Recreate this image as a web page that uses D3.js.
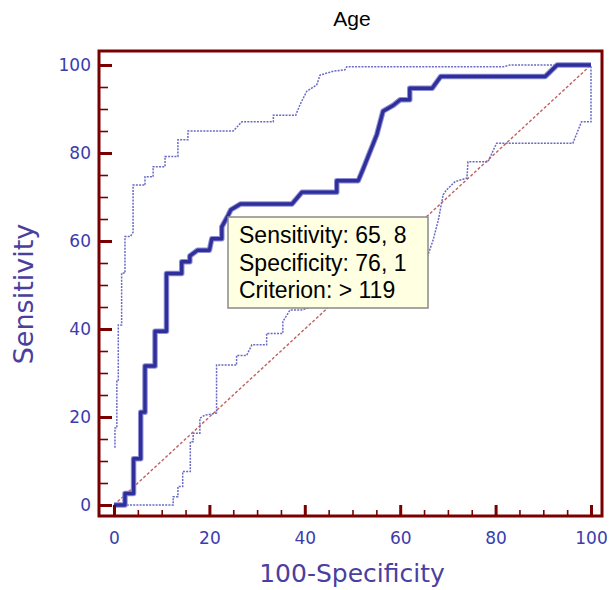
<!DOCTYPE html>
<html>
<head>
<meta charset="utf-8">
<script src="https://cdn.jsdelivr.net/npm/d3@7"></script>
<style>
  body { margin: 0; background: #fff; }
  svg { display: block; }
</style>
</head>
<body>
<script>
// tick values
var majorTicks = [0, 20, 40, 60, 80, 100];
var minorTicks = d3.range(0, 101, 5);

// ROC curve, [100-Specificity, Sensitivity]
var rocPoints = [
  [0, 0], [2.3, 0], [2.3, 2.6], [4.1, 2.6], [4.1, 10.5], [5.6, 10.5], [5.6, 21.1],
  [6.5, 21.1], [6.5, 31.6], [8.6, 31.6], [8.6, 39.5], [11, 39.5], [11, 52.6],
  [14.2, 52.6], [14.2, 55.3], [15.9, 55.3], [15.9, 56.6], [17.5, 57.9], [20, 57.9],
  [20.5, 60.5], [22.6, 60.5], [22.6, 63.2], [23.9, 65.8], [24.5, 67.1], [26.5, 68.4],
  [37.3, 68.4], [39.4, 71.1], [46.7, 71.1], [46.7, 73.7], [51.2, 73.7], [52.2, 76.3],
  [55.1, 84.2], [56.4, 89.5], [58.5, 90.8], [60, 92.1], [62, 92.1], [62, 94.7],
  [66.7, 94.7], [68.5, 97.4], [90.4, 97.4], [92.9, 100], [100, 100]
];

// upper 95% confidence bound
var upperPoints = [
  [0.2, 13], [0.2, 17.5], [0.6, 17.5], [0.6, 28.4], [0.9, 28.4], [0.9, 40.9],
  [1.6, 40.9], [1.6, 52.7], [2.3, 52.7], [2.3, 61], [3.4, 61], [4, 62], [4, 72.7],
  [6.5, 72.7], [6.5, 74.6], [8.2, 74.6], [8.2, 76.9], [10.7, 76.9], [10.7, 79.2],
  [13.4, 79.2], [13.4, 83], [15.5, 83], [15.5, 85], [25, 85], [26.8, 87.1],
  [33.4, 87.1], [33.4, 88.6], [38.1, 88.6], [39, 91], [40.4, 94], [42.5, 95.5],
  [43.2, 97.7], [46, 98.6], [48.4, 98.9], [48.8, 99.6], [81.6, 99.6], [83, 100],
  [100, 100]
];

// lower 95% confidence bound
var lowerPoints = [
  [0, 0], [12.4, 0], [12.4, 1.9], [13.4, 1.9], [13.4, 4.2], [14.4, 4.2], [14.4, 7.6],
  [16, 7.6], [16, 14.4], [16.6, 14.4], [16.6, 16.3], [18, 16.3], [18, 19.7],
  [19, 20.4], [21.5, 20.9], [21.5, 31.8], [25.7, 31.8], [25.7, 34], [27.8, 34],
  [28.9, 36.4], [32, 36.4], [32, 39], [35.4, 39], [35.4, 41.7], [36.9, 44.3],
  [39.3, 44.3], [48, 47.4], [57, 52.6], [63, 55.3], [65.8, 56.8], [66.9, 60.2],
  [68, 64.8], [69, 70.5], [69.7, 71.6], [71.5, 73.5], [74, 74.3], [74.2, 78],
  [78.4, 78], [80.2, 82.2], [96.2, 82.2], [98, 87.1], [100, 87.1], [100, 100]
];

var diagonal = [[0, 0], [100, 100]];

var legendLines = ["Sensitivity: 65, 8", "Specificity: 76, 1", "Criterion: > 119"];

var W = 609, H = 590;
var frame = { left: 99, top: 51, right: 602, bottom: 516 };

var svg = d3.select("body").append("svg")
    .attr("width", W)
    .attr("height", H);

var x = d3.scaleLinear().domain([0, 100]).range([114, 591]);
var y = d3.scaleLinear().domain([0, 100]).range([505, 65]);

var line = d3.line()
    .x(d => x(d[0]))
    .y(d => y(d[1]));

// title
svg.append("text")
    .attr("x", 352)
    .attr("y", 26)
    .attr("text-anchor", "middle")
    .style("font-family", "Liberation Sans, Arial, sans-serif")
    .style("font-size", "21px")
    .style("fill", "#000")
    .text("Age");

// diagonal reference line
svg.append("path")
    .datum(diagonal)
    .attr("d", line)
    .style("fill", "none")
    .style("stroke", "#c06060")
    .style("stroke-width", 1.4)
    .style("stroke-dasharray", "3,2");

// confidence bounds
[upperPoints, lowerPoints].forEach(function(pts) {
  svg.append("path")
      .datum(pts)
      .attr("d", line)
      .style("fill", "none")
      .style("stroke", "#6a6ac6")
      .style("stroke-width", 1.5)
      .style("stroke-dasharray", "2,1.2");
});

// ROC curve (soft halo + core)
svg.append("path")
    .datum(rocPoints)
    .attr("d", line)
    .style("fill", "none")
    .style("stroke", "#8f8fd4")
    .style("stroke-width", 5.5)
    .style("stroke-linejoin", "round");

svg.append("path")
    .datum(rocPoints)
    .attr("d", line)
    .style("fill", "none")
    .style("stroke", "#2f2f9c")
    .style("stroke-width", 3.4)
    .style("stroke-linejoin", "round");

// legend box
var legend = svg.append("g");
legend.append("rect")
    .attr("x", 228)
    .attr("y", 217)
    .attr("width", 200)
    .attr("height", 91)
    .style("fill", "#ffffe1")
    .style("stroke", "#8a8a8a")
    .style("stroke-width", 1.5);

legend.selectAll("text")
    .data(legendLines)
    .enter().append("text")
    .attr("x", 239)
    .attr("y", (d, i) => 243 + i * 27.5)
    .style("font-family", "Liberation Sans, Arial, sans-serif")
    .style("font-size", "23px")
    .style("fill", "#000")
    .text(d => d);

// axes: minor ticks, then major ticks with labels
var tickColor = "#7a0000";
var labelColor = "#3c3cae";

function styleAxis(g, width) {
  g.select(".domain").remove();
  g.selectAll(".tick line")
      .style("stroke", tickColor)
      .style("stroke-width", width);
  g.selectAll(".tick text")
      .style("fill", labelColor)
      .style("font-family", "DejaVu Sans, sans-serif")
      .style("font-size", "17px");
}

svg.append("g")
    .attr("transform", "translate(" + frame.left + ",0)")
    .call(d3.axisLeft(y).tickValues(minorTicks).tickSize(-9).tickFormat(""))
    .call(g => styleAxis(g, 1.6));

svg.append("g")
    .attr("transform", "translate(" + frame.left + ",0)")
    .call(d3.axisLeft(y).tickValues(majorTicks).tickSize(-13).tickPadding(8))
    .call(g => styleAxis(g, 3));

svg.append("g")
    .attr("transform", "translate(0," + frame.bottom + ")")
    .call(d3.axisBottom(x).tickValues(minorTicks).tickSize(-6).tickFormat(""))
    .call(g => styleAxis(g, 1.6));

svg.append("g")
    .attr("transform", "translate(0," + frame.bottom + ")")
    .call(d3.axisBottom(x).tickValues(majorTicks).tickSize(-11).tickPadding(16))
    .call(g => styleAxis(g, 3));

// plot frame
svg.append("rect")
    .attr("x", frame.left)
    .attr("y", frame.top)
    .attr("width", frame.right - frame.left)
    .attr("height", frame.bottom - frame.top)
    .style("fill", "none")
    .style("stroke", tickColor)
    .style("stroke-width", 3);

// axis titles
svg.append("text")
    .attr("x", 352)
    .attr("y", 582)
    .attr("text-anchor", "middle")
    .style("font-family", "DejaVu Sans, sans-serif")
    .style("font-size", "25px")
    .style("fill", "#4a3f9e")
    .text("100-Specificity");

svg.append("text")
    .attr("transform", "translate(33,294) rotate(-90)")
    .attr("text-anchor", "middle")
    .style("font-family", "DejaVu Sans, sans-serif")
    .style("font-size", "27px")
    .style("fill", "#4a3f9e")
    .text("Sensitivity");
</script>
</body>
</html>
